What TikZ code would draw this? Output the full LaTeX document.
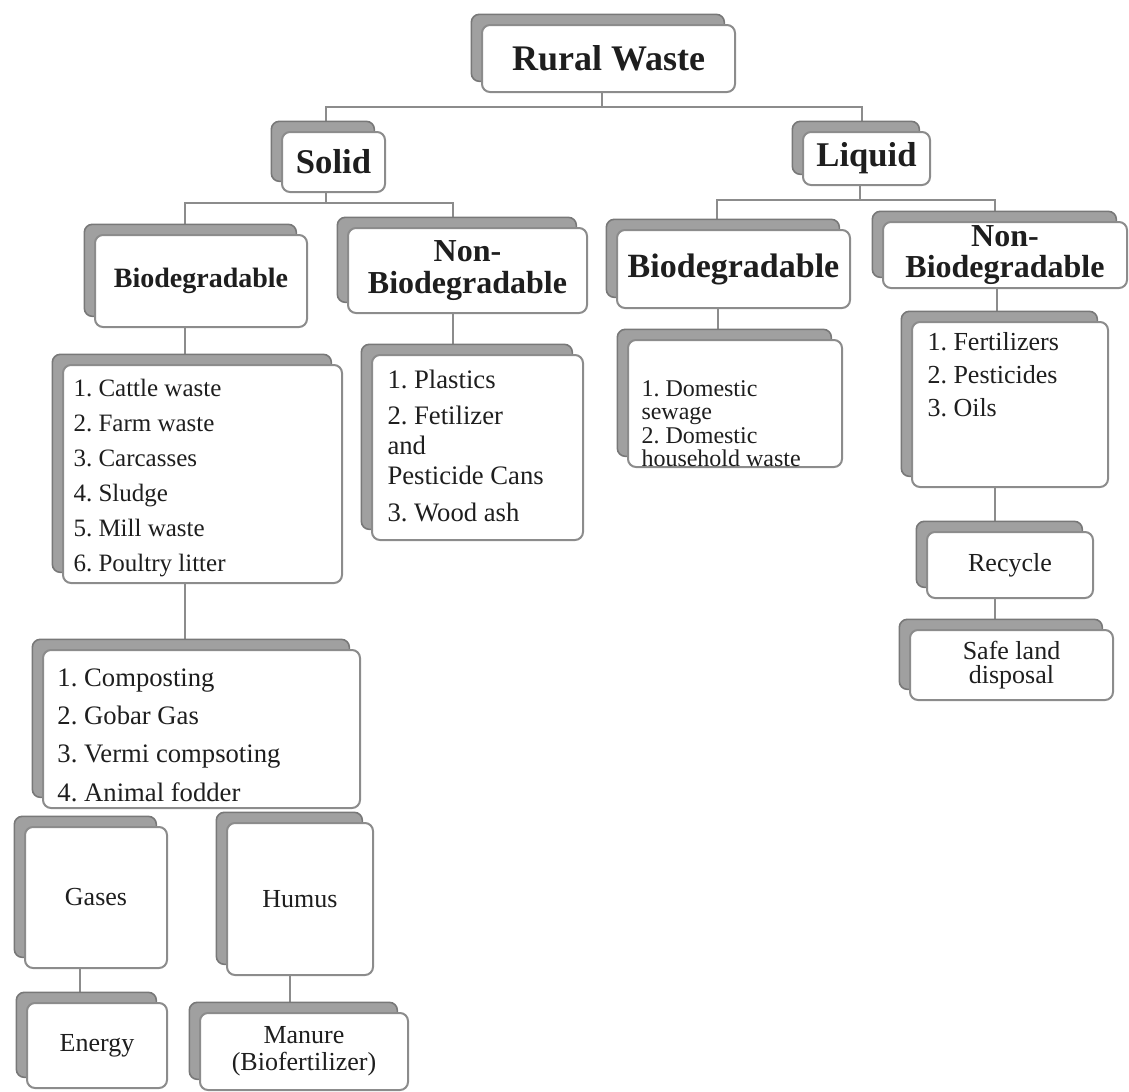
\documentclass[tikz,border=0pt]{standalone}
\usepackage{fontspec}
\setmainfont{Liberation Serif}
\usetikzlibrary{shadows,backgrounds}
\frenchspacing

\definecolor{edgegray}{RGB}{140,140,140}
\definecolor{shadegray}{RGB}{160,160,160}
\definecolor{shadeedge}{RGB}{120,120,120}
\definecolor{inkgray}{RGB}{30,30,30}

\tikzset{every picture/.style={line width=0.75pt}}
\tikzset{
  card/.style={draw=edgegray, line width=1.5pt, fill=white, rounded corners=6pt,
    inner sep=0pt, align=center, text=inkgray,
    copy shadow={shadow xshift=-8pt, shadow yshift=8pt, fill=shadegray, draw=shadeedge, line width=1.2pt}},
  conn/.style={draw=edgegray, line width=2pt},
  listtxt/.style={anchor=north west, inner sep=0pt, align=left, text=inkgray},
  plain/.style={font=\fontsize{19.5}{18}\selectfont}
}

\begin{document}
\begin{tikzpicture}[x=0.75pt,y=0.75pt,yscale=-1,xscale=1]
\useasboundingbox (0,0) rectangle (1129,1092);

%Rounded Rect [Rural Waste]
\node [card, minimum width=189.75pt, minimum height=50.25pt, font=\bfseries\fontsize{27}{27}\selectfont] (rw) at (608.5,58.5) {Rural Waste};
%Rounded Rect [Solid]
\node [card, minimum width=77.25pt, minimum height=45pt, font=\bfseries\fontsize{26}{26}\selectfont] (solid) at (333.5,162) {Solid};
%Rounded Rect [Liquid]
\node [card, minimum width=95.25pt, minimum height=39.75pt, font=\bfseries\fontsize{26}{26}\selectfont] (liquid) at (866.5,158.5) {Liquid};

%Rounded Rect [second row]
\node [card, minimum width=159pt, minimum height=69pt, font=\bfseries\fontsize{21}{21}\selectfont] (sb) at (201,281) {Biodegradable};
\node [card, minimum width=179.25pt, minimum height=63.75pt, font=\bfseries\fontsize{24}{23.5}\selectfont] (sn) at (467.5,270.5) {Non-\\Biodegradable};
\node [card, minimum width=174.75pt, minimum height=58.5pt, font=\bfseries\fontsize{25.5}{25.5}\selectfont] (lb) at (733.5,269) {Biodegradable};
\node [card, minimum width=183pt, minimum height=49.5pt, font=\bfseries\fontsize{24}{23}\selectfont] (ln) at (1005,255) {Non-\\Biodegradable};

%Rounded Rect [lists]
\node [card, minimum width=209.25pt, minimum height=163.5pt] (sbl) at (202.5,474) {};
\node [card, minimum width=158.25pt, minimum height=138.75pt] (snl) at (477.5,447.5) {};
\node [card, minimum width=160.5pt, minimum height=95.25pt] (lbl) at (735,403.5) {};
\node [card, minimum width=147pt, minimum height=123.75pt] (lnl) at (1010,404.5) {};

%Rounded Rect [uses]
\node [card, minimum width=237.75pt, minimum height=118.5pt] (sbm) at (201.5,729) {};
\node [card, plain, minimum width=106.5pt, minimum height=105.75pt] (gases) at (96,897.5) {Gases};
\node [card, plain, minimum width=109.5pt, minimum height=114pt] (humus) at (300,899) {Humus};
\node [card, plain, minimum width=105pt, minimum height=63.75pt] (energy) at (97,1045.5) {Energy};
\node [card, plain, minimum width=156pt, minimum height=57.75pt, font=\fontsize{19.5}{20}\selectfont] (manure) at (304,1051.5) {Manure\\(Biofertilizer)};
\node [card, plain, minimum width=124.5pt, minimum height=49.5pt] (recycle) at (1010,565) {Recycle};
\node [card, plain, minimum width=152.25pt, minimum height=52.5pt, font=\fontsize{19.5}{18.5}\selectfont] (safe) at (1011.5,665) {Safe land\\disposal};

% Text Node
\node [listtxt, font=\fontsize{18.75}{26.25}\selectfont] (sbltxt) at (73,379) {1. Cattle waste\\2. Farm waste\\3. Carcasses\\4. Sludge\\5. Mill waste\\6. Poultry litter};
% Text Node
\node [listtxt, font=\fontsize{20}{22.5}\selectfont] (snltxt) at (387,369) {1. Plastics\\[5pt]2. Fetilizer\\and\\Pesticide Cans\\[5pt]3. Wood ash};
% Text Node
\node [listtxt, font=\fontsize{18}{17.5}\selectfont] (lbltxt) at (641,380) {1. Domestic\\sewage\\2. Domestic\\household waste};
% Text Node
\node [listtxt, font=\fontsize{19.5}{24.75}\selectfont] (lnltxt) at (927,332) {1. Fertilizers\\2. Pesticides\\3. Oils};
% Text Node
\node [listtxt, font=\fontsize{20}{28.75}\selectfont] (sbmtxt) at (57,668) {1. Composting\\2. Gobar Gas\\3. Vermi compsoting\\4. Animal fodder};

\coordinate (bus1) at (602,107);
\coordinate (bus2) at (326,203);
\coordinate (bus3) at (860,200);

\begin{pgfonlayer}{background}
%Straight Lines
\draw [conn] (bus1 |- rw.south) -- (bus1) ;
\draw [conn] ([xshift=-5.6pt]solid.north) |- (bus1) -| ([xshift=-3.4pt]liquid.north) ;
%Straight Lines
\draw [conn] (bus2 |- solid.south) -- (bus2) ;
\draw [conn] ([xshift=-12pt]sb.north) |- (bus2) -| ([xshift=-10.9pt]sn.north) ;
%Straight Lines
\draw [conn] (bus3 |- liquid.south) -- (bus3) ;
\draw [conn] ([xshift=-12.4pt]lb.north) |- (bus3) -| ([xshift=-7.5pt]ln.north) ;
%Straight Lines
\draw [conn] ([xshift=-12pt]sb.south) |- (sbl.north) ;
\draw [conn] ([xshift=-10.9pt]sn.south) |- (snl.north) ;
\draw [conn] ([xshift=-11.6pt]lb.south) |- (lbl.north) ;
\draw [conn] ([xshift=-6pt]ln.south) |- (lnl.north) ;
\draw [conn] ([xshift=-13.1pt]sbl.south) |- (sbm.north) ;
\draw [conn] ([xshift=-11.25pt]lnl.south) |- (recycle.north) ;
\draw [conn] ([xshift=-11.25pt]recycle.south) |- (safe.north) ;
\draw [conn] ([xshift=-12pt]gases.south) |- (energy.north) ;
\draw [conn] ([xshift=-7.5pt]humus.south) |- (manure.north) ;
\end{pgfonlayer}

\end{tikzpicture}
\end{document}
